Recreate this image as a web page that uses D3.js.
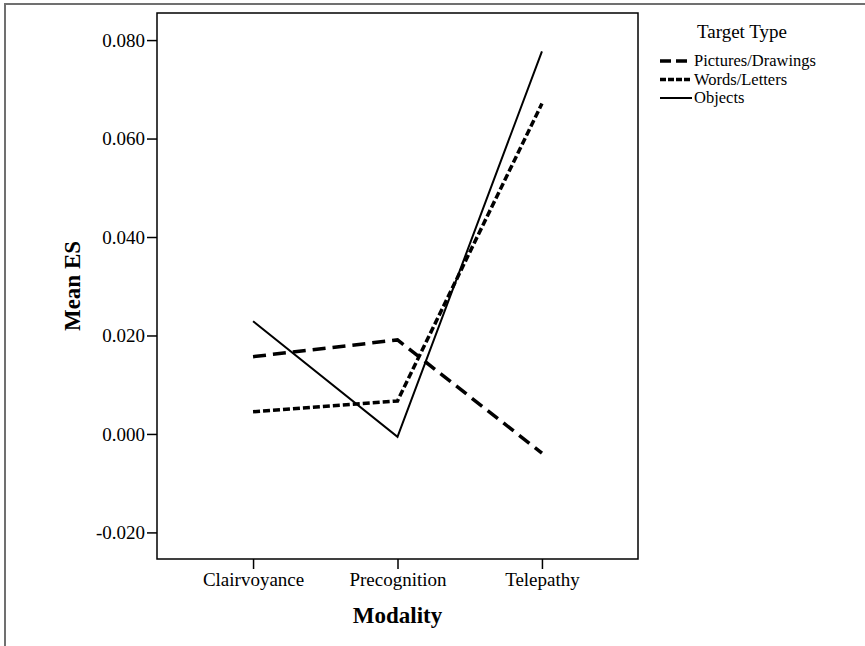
<!DOCTYPE html>
<html>
<head>
<meta charset="utf-8">
<script src="https://cdn.jsdelivr.net/npm/d3@7"></script>
<style>
  body { margin: 0; background: #fff; }
  svg text { font-family: "Liberation Serif", "Times New Roman", serif; fill: #000; }
</style>
</head>
<body>
<svg id="chart" width="865" height="646"></svg>
<script>
const modalities = ["Clairvoyance", "Precognition", "Telepathy"];
const seriesNames = ["Pictures/Drawings", "Words/Letters", "Objects"];
const picturesES = [0.0157, 0.0191, -0.0039];
const wordsES = [0.0045, 0.0067, 0.0671];
const objectsES = [0.0229, -0.0006, 0.0777];
const yTicks = [-0.020, 0.000, 0.020, 0.040, 0.060, 0.080];

const series = [
  { name: seriesNames[0], values: picturesES, dash: "13,7", width: 3.5 },
  { name: seriesNames[1], values: wordsES, dash: "7,3", width: 3.5 },
  { name: seriesNames[2], values: objectsES, dash: null, width: 2 },
];

const serif = '"Liberation Serif", "Times New Roman", serif';
const svg = d3.select("#chart");

// outer frame
svg.append("rect")
  .attr("x", 5).attr("y", 4).attr("width", 880).attr("height", 660)
  .attr("fill", "none").attr("stroke", "#707070").attr("stroke-width", 2);

const box = { left: 157, right: 638, top: 13, bottom: 559 };

const x = d3.scalePoint()
  .domain(modalities)
  .range([box.left, box.right])
  .padding(0.665);

const y = d3.scaleLinear()
  .domain([-0.0254, 0.0855])
  .range([box.bottom, box.top]);

// plot box
svg.append("rect")
  .attr("x", box.left).attr("y", box.top)
  .attr("width", box.right - box.left).attr("height", box.bottom - box.top)
  .attr("fill", "none").attr("stroke", "#000").attr("stroke-width", 1.5);

// y axis
const yAxis = svg.append("g")
  .attr("transform", `translate(${box.left},0)`)
  .call(d3.axisLeft(y).tickValues(yTicks).tickFormat(d => d.toFixed(3)).tickSize(10).tickPadding(2));
yAxis.select(".domain").remove();
yAxis.selectAll("line").attr("stroke", "#000").attr("stroke-width", 1.5);
yAxis.selectAll("text").style("font-family", serif).style("font-size", "19px");

// x axis
const xAxis = svg.append("g")
  .attr("transform", `translate(0,${box.bottom})`)
  .call(d3.axisBottom(x).tickSize(10).tickPadding(4));
xAxis.select(".domain").remove();
xAxis.selectAll("line").attr("stroke", "#000").attr("stroke-width", 1.5);
xAxis.selectAll("text").style("font-family", serif).style("font-size", "19px");

// axis titles
svg.append("text")
  .attr("x", (box.left + box.right) / 2).attr("y", 623)
  .attr("text-anchor", "middle")
  .style("font-family", serif).style("font-size", "23px").style("font-weight", "bold")
  .text("Modality");

svg.append("text")
  .attr("transform", `translate(80,${(box.top + box.bottom) / 2}) rotate(-90)`)
  .attr("text-anchor", "middle")
  .style("font-family", serif).style("font-size", "23px").style("font-weight", "bold")
  .text("Mean ES");

// lines
const line = d3.line()
  .x((d, i) => x(modalities[i]))
  .y(d => y(d));

svg.selectAll(".series")
  .data(series)
  .join("path")
  .attr("class", "series")
  .attr("d", d => line(d.values))
  .attr("fill", "none")
  .attr("stroke", "#000")
  .attr("stroke-width", d => d.width)
  .attr("stroke-dasharray", d => d.dash);

// legend
const legend = svg.append("g");
legend.append("text")
  .attr("x", 742).attr("y", 38)
  .attr("text-anchor", "middle")
  .style("font-family", serif).style("font-size", "19px")
  .text("Target Type");

const item = legend.selectAll(".item")
  .data(series)
  .join("g")
  .attr("class", "item")
  .attr("transform", (d, i) => `translate(660,${61 + i * 18.5})`);

item.append("line")
  .attr("x1", 0).attr("x2", 32)
  .attr("stroke", "#000")
  .attr("stroke-width", d => d.width)
  .attr("stroke-dasharray", d => d.dash ? (d.name === seriesNames[0] ? "11,5" : "6,2") : null);

item.append("text")
  .attr("x", 34).attr("y", 5)
  .style("font-family", serif).style("font-size", "16.5px")
  .text(d => d.name);
</script>
</body>
</html>
